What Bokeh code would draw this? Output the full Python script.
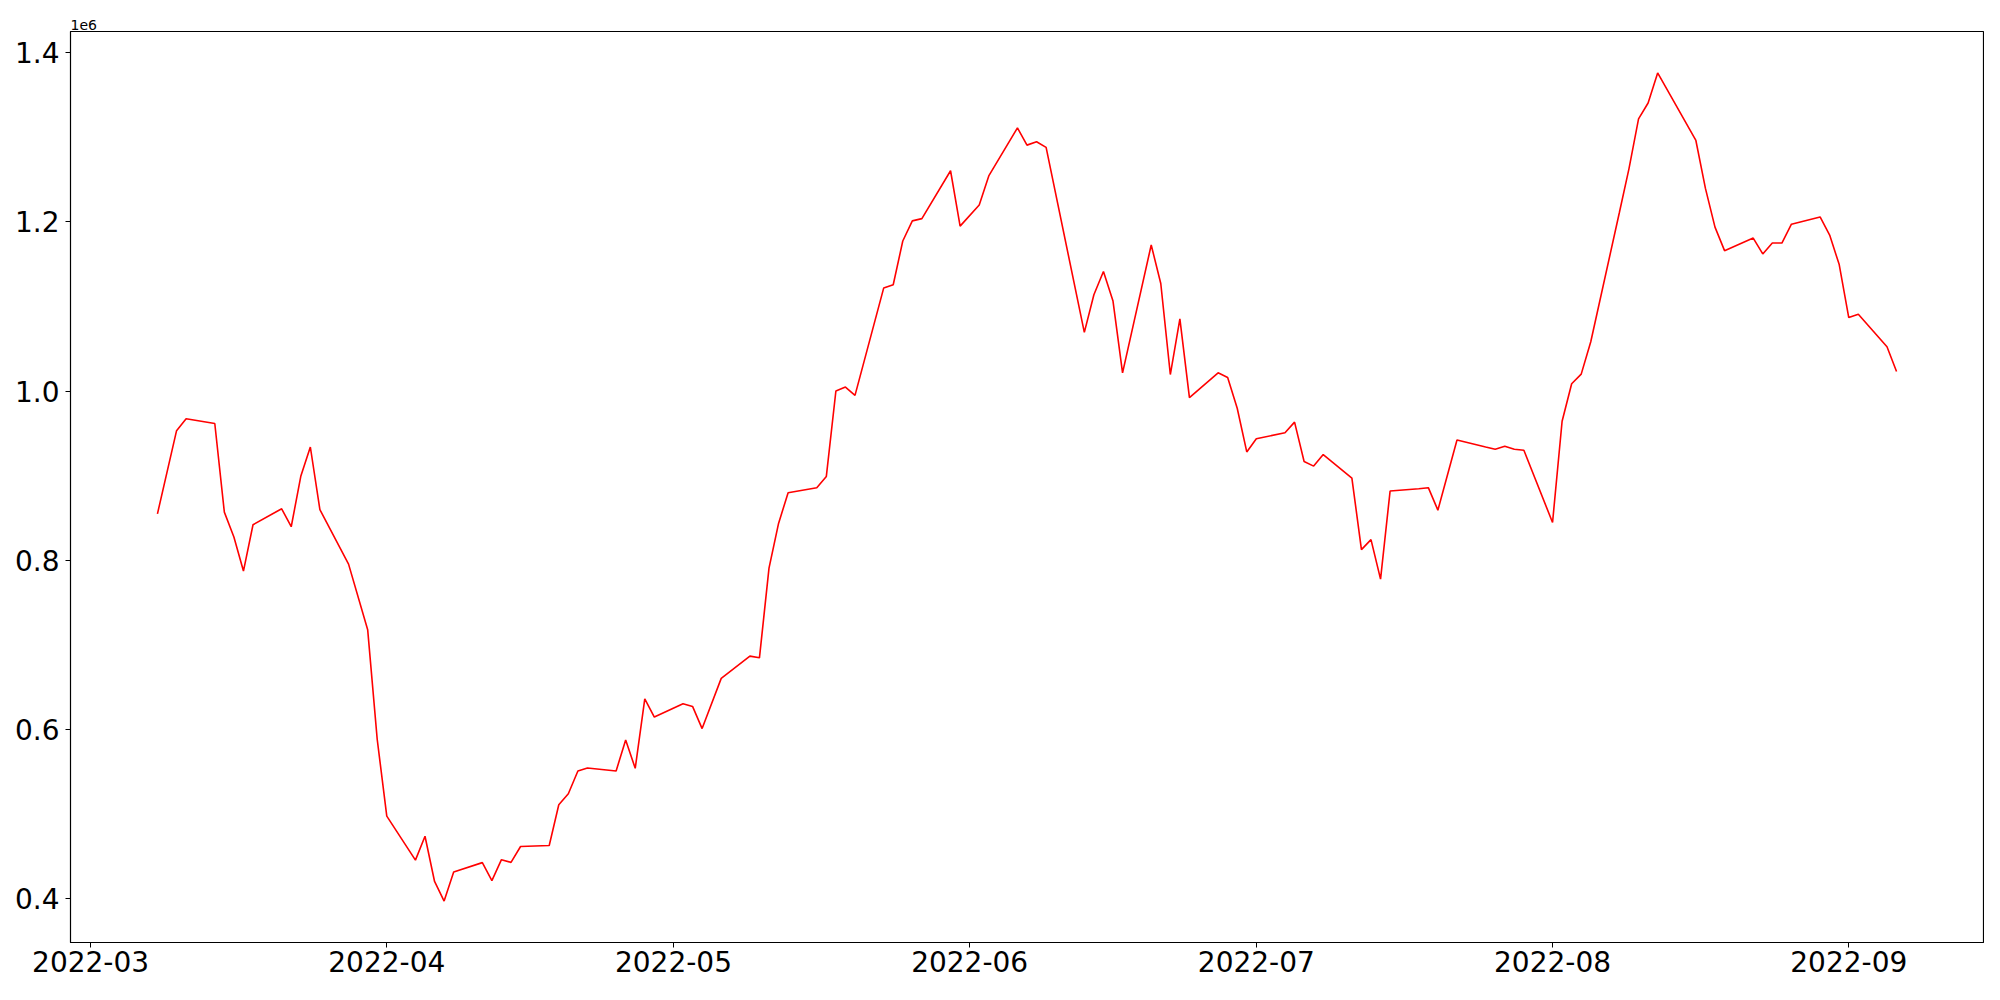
import pandas as pd
from bokeh.plotting import figure
from bokeh.models import Range1d, FixedTicker, DatetimeTickFormatter, CustomJSTickFormatter
from bokeh.embed import file_html
from bokeh.resources import INLINE

dates = [
    "2022-03-08", "2022-03-10", "2022-03-11", "2022-03-14", "2022-03-15", "2022-03-16", "2022-03-17", "2022-03-18",
    "2022-03-21", "2022-03-22", "2022-03-23", "2022-03-24", "2022-03-25", "2022-03-28", "2022-03-30", "2022-03-31",
    "2022-04-01", "2022-04-04", "2022-04-05", "2022-04-06", "2022-04-07", "2022-04-08", "2022-04-11", "2022-04-12",
    "2022-04-13", "2022-04-14", "2022-04-15", "2022-04-18", "2022-04-19", "2022-04-20", "2022-04-21", "2022-04-22",
    "2022-04-25", "2022-04-26", "2022-04-27", "2022-04-28", "2022-04-29", "2022-05-02", "2022-05-03", "2022-05-04",
    "2022-05-06", "2022-05-09", "2022-05-10", "2022-05-11", "2022-05-12", "2022-05-13", "2022-05-16", "2022-05-17",
    "2022-05-18", "2022-05-19", "2022-05-20", "2022-05-23", "2022-05-24", "2022-05-25", "2022-05-26", "2022-05-27",
    "2022-05-30", "2022-05-31", "2022-06-02", "2022-06-03", "2022-06-06", "2022-06-07", "2022-06-08", "2022-06-09",
    "2022-06-13", "2022-06-14", "2022-06-15", "2022-06-16", "2022-06-17", "2022-06-20", "2022-06-21", "2022-06-22",
    "2022-06-23", "2022-06-24", "2022-06-27", "2022-06-28", "2022-06-29", "2022-06-30", "2022-07-01", "2022-07-04",
    "2022-07-05", "2022-07-06", "2022-07-07", "2022-07-08", "2022-07-11", "2022-07-12", "2022-07-13", "2022-07-14",
    "2022-07-15", "2022-07-18", "2022-07-19", "2022-07-20", "2022-07-22", "2022-07-25", "2022-07-26", "2022-07-27",
    "2022-07-28", "2022-07-29", "2022-08-01", "2022-08-02", "2022-08-03", "2022-08-04", "2022-08-05", "2022-08-08",
    "2022-08-09", "2022-08-10", "2022-08-11", "2022-08-12", "2022-08-16", "2022-08-17", "2022-08-18", "2022-08-19",
    "2022-08-22", "2022-08-23", "2022-08-24", "2022-08-25", "2022-08-26", "2022-08-29", "2022-08-30", "2022-08-31",
    "2022-09-01", "2022-09-02", "2022-09-05", "2022-09-06",
]

values = [
    854800, 953100, 967200, 961600, 856800, 827400, 787100, 841900,
    860700, 839500, 899100, 933800, 859800, 795300, 717800, 587900,
    497300, 445300, 473500, 420000, 396800, 431200, 442300, 421100,
    445800, 442600, 461400, 462600, 510700, 523700, 550700, 554200,
    550700, 587400, 553800, 636000, 614400, 630100, 627000, 600800,
    660200, 686500, 684500, 790500, 843400, 879800, 885700, 899000,
    1000000, 1004700, 994900, 1121700, 1125700, 1177400, 1201200, 1203900,
    1260500, 1195000, 1220000, 1254400, 1311200, 1290800, 1294800, 1288100,
    1069300, 1113900, 1141300, 1106400, 1021500, 1172700, 1127200, 1019500,
    1085300, 992200, 1021500, 1016000, 979600, 928000, 943500, 950700,
    963200, 916700, 911200, 924900, 897100, 812500, 824300, 777600,
    881800, 884500, 885700, 859100, 942000, 933800, 931100, 934600,
    931100, 929900, 844500, 964300, 1008600, 1020000, 1058300, 1211400,
    1263100, 1321800, 1340600, 1376200, 1296300, 1239600, 1193800, 1166000,
    1180900, 1162100, 1175000, 1175000, 1197300, 1205900, 1184400, 1149500,
    1086900, 1090800, 1052400, 1023100,
]

x_tick_labels = ["2022-03-01", "2022-04-01", "2022-05-01", "2022-06-01", "2022-07-01", "2022-08-01", "2022-09-01"]
y_ticks = [400000, 600000, 800000, 1000000, 1200000, 1400000]

x = pd.to_datetime(dates)
xmin, xmax = x.min(), x.max()
xpad = (xmax - xmin) * 0.05
vmin, vmax = min(values), max(values)
ypad = (vmax - vmin) * 0.05

p = figure(
    width=1984, height=984,
    x_axis_type="datetime",
    output_backend="svg",
    toolbar_location=None,
    x_range=Range1d(xmin - xpad, xmax + xpad),
    y_range=Range1d(vmin - ypad, vmax + ypad),
    min_border_left=70, min_border_right=1, min_border_top=31, min_border_bottom=42,
    title="1e6",
)

p.line(x, values, line_color="#ff0000", line_width=1.6)

p.title.text_font = "DejaVu Sans"
p.title.text_font_size = "14px"
p.title.text_font_style = "normal"
p.title.text_color = "black"
p.title.align = "left"
p.title.standoff = 3

p.grid.visible = False
p.outline_line_color = "black"
p.outline_line_width = 1.2
p.outline_line_alpha = 1.0
p.background_fill_color = "white"
p.border_fill_color = "white"

tick_ms = [pd.Timestamp(d).value // 10**6 for d in x_tick_labels]
p.xaxis.ticker = FixedTicker(ticks=tick_ms)
fmt = "%Y-%m"
p.xaxis.formatter = DatetimeTickFormatter(
    milliseconds=fmt, seconds=fmt, minsec=fmt, minutes=fmt, hourmin=fmt, hours=fmt,
    days=fmt, months=fmt, years=fmt,
)
p.yaxis.ticker = FixedTicker(ticks=y_ticks)
p.yaxis.formatter = CustomJSTickFormatter(code="return (tick / 1e6).toFixed(1);")

for ax in (p.xaxis, p.yaxis):
    ax.major_label_text_font = "DejaVu Sans"
    ax.major_label_text_font_size = "28px"
    ax.major_label_text_color = "black"
    ax.major_tick_out = 5
    ax.major_tick_in = 0
    ax.minor_tick_out = 0
    ax.minor_tick_in = 0
    ax.major_tick_line_color = "black"
    ax.axis_line_color = "black"

p.xaxis.major_label_standoff = 3
p.yaxis.major_label_standoff = 6

open("out.html", "w").write(file_html(p, INLINE))
